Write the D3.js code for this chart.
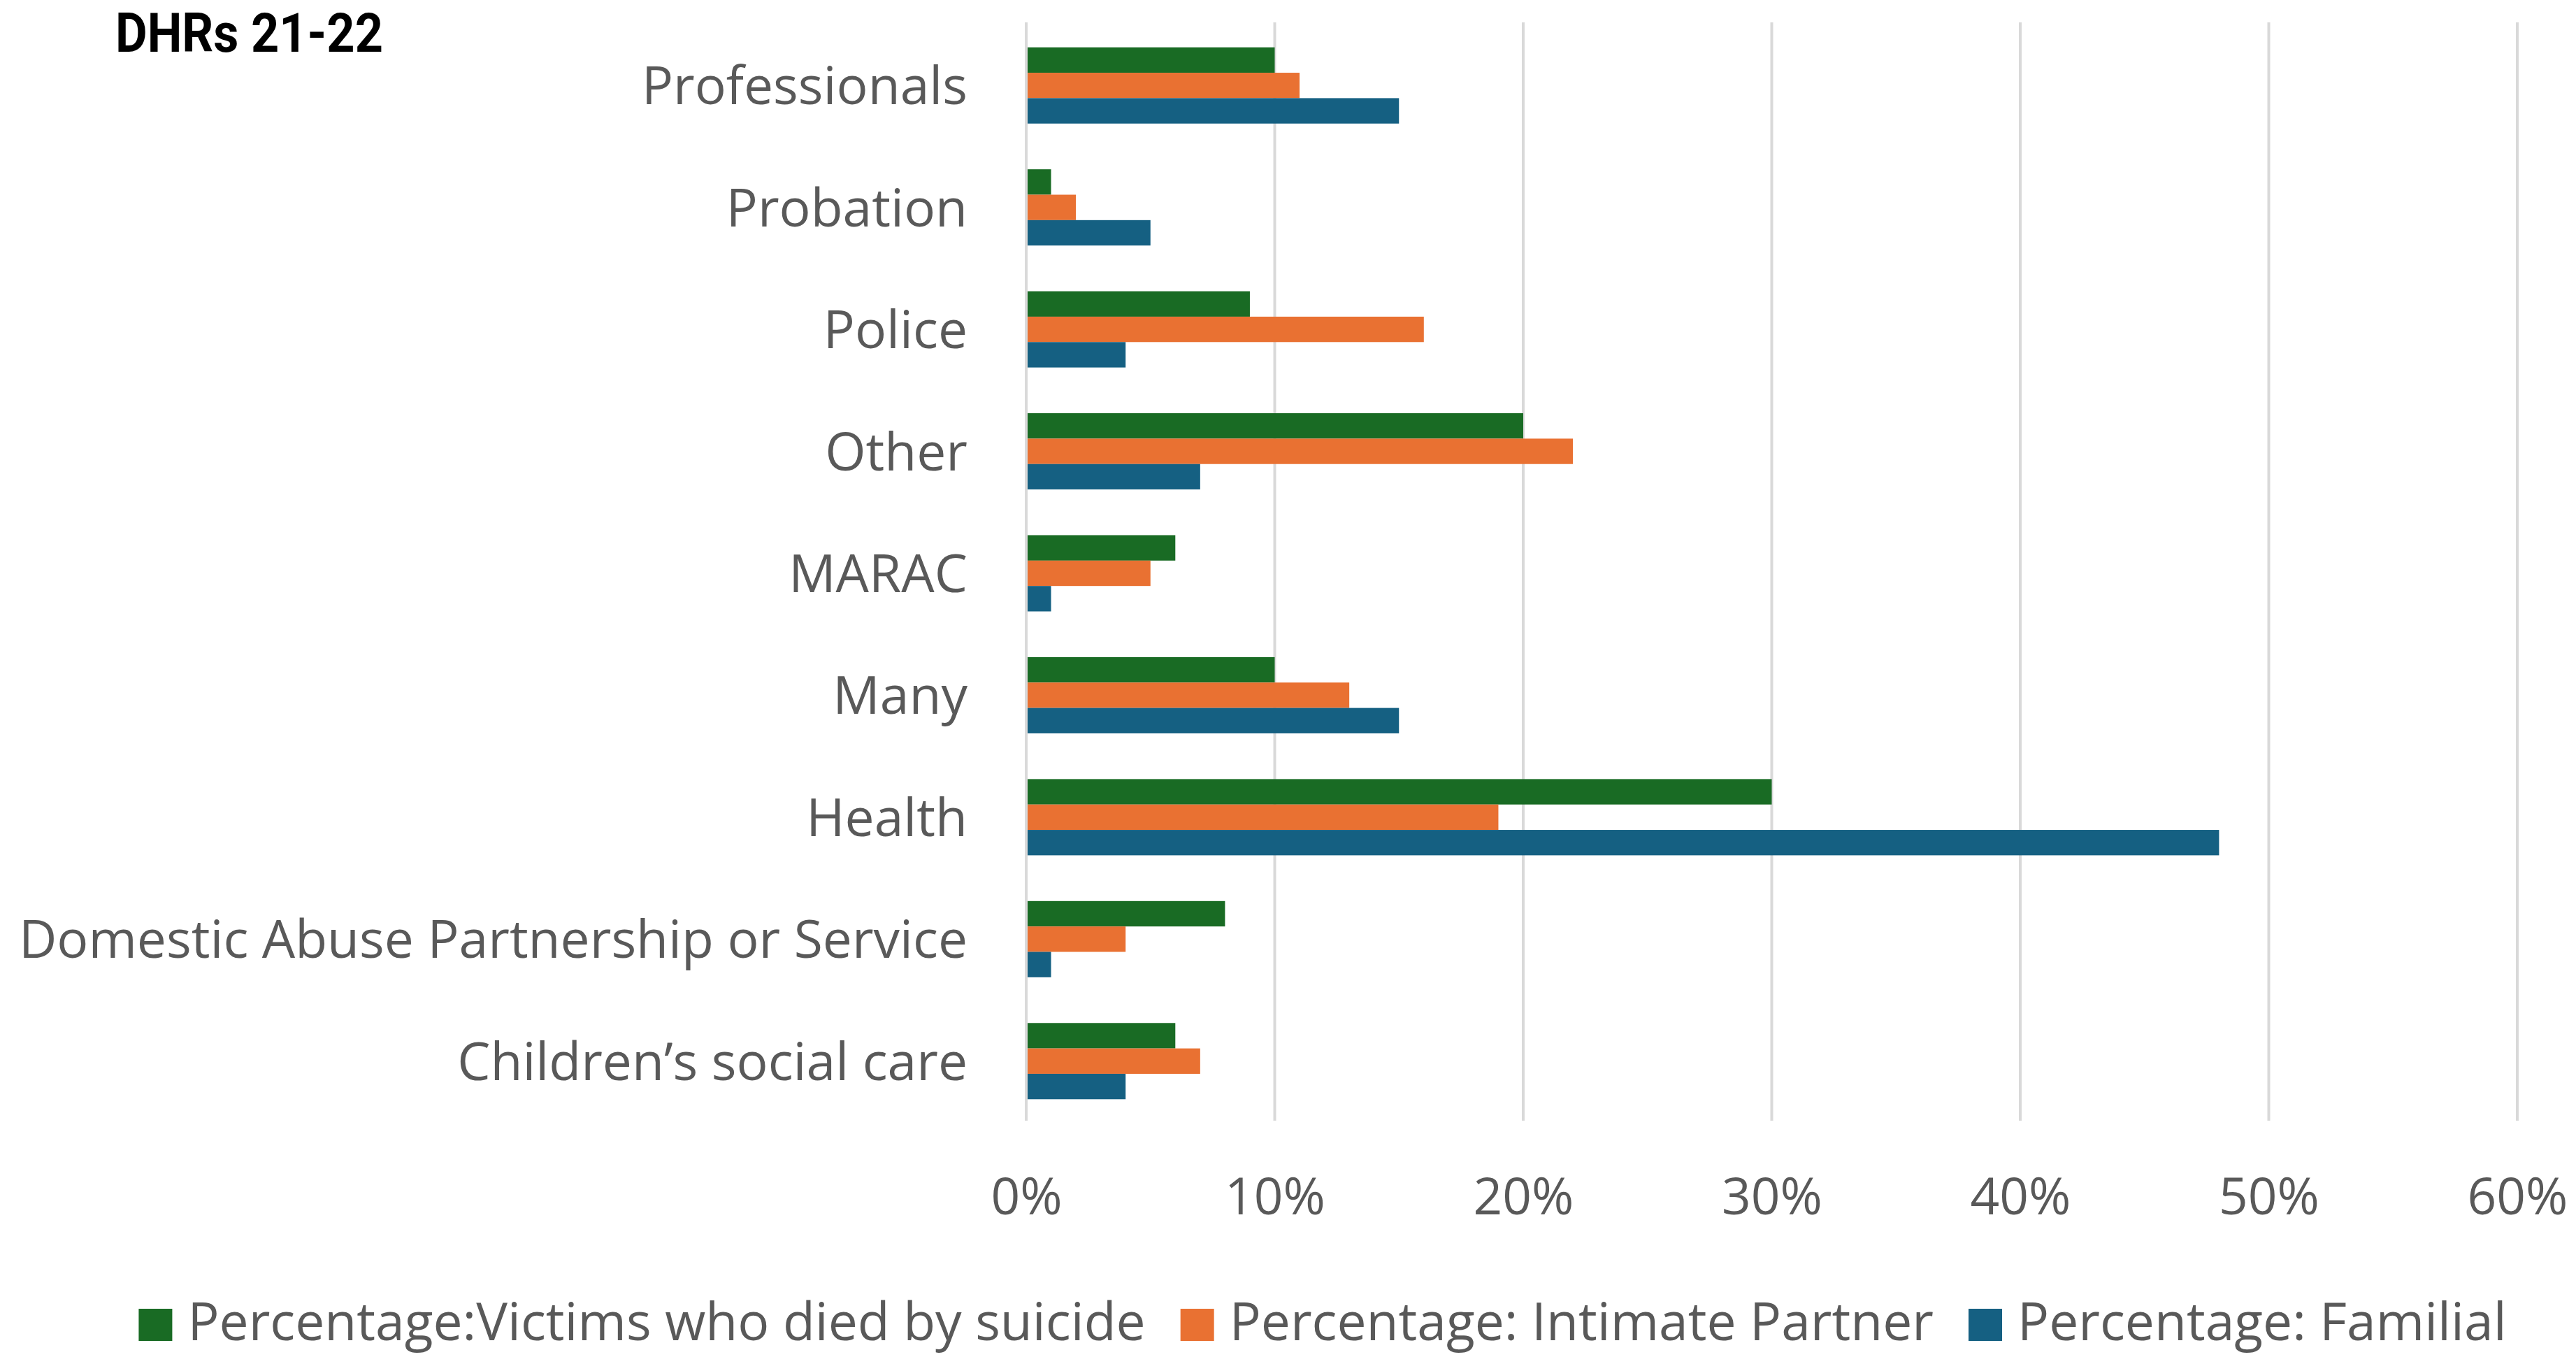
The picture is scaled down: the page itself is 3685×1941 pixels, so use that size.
<!DOCTYPE html>
<html>
<head>
<meta charset="utf-8">
<script src="https://cdn.jsdelivr.net/npm/d3@7"></script>
<style>
  html, body { margin: 0; padding: 0; background: #ffffff; }
  svg { display: block; }
</style>
</head>
<body>
<svg id="chart" width="3685" height="1941"></svg>
<script>
// Agencies named in the reviews, top to bottom
const categories = [
  "Professionals",
  "Probation",
  "Police",
  "Other",
  "MARAC",
  "Many",
  "Health",
  "Domestic Abuse Partnership or Service",
  "Children\u2019s social care"
];

const seriesNames = [
  "Percentage:Victims who died by suicide",
  "Percentage: Intimate Partner",
  "Percentage: Familial"
];

// Share of reviews (%) per agency, one array per review type
const suicideValues  = [10, 1, 9, 20, 6, 10, 30, 8, 6];
const partnerValues  = [11, 2, 16, 22, 5, 13, 19, 4, 7];
const familialValues = [15, 5, 4, 7, 1, 15, 48, 1, 4];

const tickValues = [0, 10, 20, 30, 40, 50, 60];
const tickLabels = ["0%", "10%", "20%", "30%", "40%", "50%", "60%"];

const seriesColors = ["#196B24", "#E97132", "#156082"];
const titleText = "DHRs 21-22";

const seriesValues = [suicideValues, partnerValues, familialValues];
const rows = categories.map((c, i) => ({
  category: c,
  values: seriesNames.map((s, k) => ({ series: s, value: seriesValues[k][i] }))
}));

const svg = d3.select("#chart");
const textColor = "#595959";
const fontFamily = "'Open Sans', 'Noto Sans', sans-serif";
const labelSize = 75;

const x = d3.scaleLinear().domain([0, 60]).range([1468, 3601]);
const y = d3.scaleBand().domain(categories).range([35, 1605]).padding(0);
const ySub = d3.scaleBand().domain(seriesNames).range([0, y.bandwidth()])
  .paddingInner(0).paddingOuter(0.9);
const color = d3.scaleOrdinal().domain(seriesNames).range(seriesColors);

// Vertical gridlines
svg.append("g")
  .selectAll("line")
  .data(tickValues)
  .join("line")
  .attr("x1", d => x(d)).attr("x2", d => x(d))
  .attr("y1", 32).attr("y2", 1603)
  .attr("stroke", "#d9d9d9")
  .attr("stroke-width", 4);

// Bars
const groups = svg.append("g")
  .selectAll("g")
  .data(rows)
  .join("g")
  .attr("transform", d => `translate(0,${y(d.category)})`);

groups.selectAll("rect")
  .data(d => d.values)
  .join("rect")
  .attr("x", x(0) + 2)
  .attr("y", d => ySub(d.series))
  .attr("width", d => Math.max(0, x(d.value) - x(0) - 2))
  .attr("height", ySub.bandwidth())
  .attr("fill", d => color(d.series));

// Category axis labels
const yAxis = d3.axisLeft(y).tickSize(0).tickPadding(0);
const yAxisG = svg.append("g")
  .attr("transform", "translate(1384,0)")
  .call(yAxis);
yAxisG.select(".domain").remove();
yAxisG.selectAll("text")
  .attr("font-family", fontFamily)
  .attr("font-size", labelSize)
  .attr("fill", textColor)
  .attr("dy", "0.36em");

// Percentage axis labels
const xAxis = d3.axisBottom(x)
  .tickValues(tickValues)
  .tickFormat((d, i) => tickLabels[i])
  .tickSize(0)
  .tickPadding(0);
const xAxisG = svg.append("g")
  .attr("transform", "translate(0,1737)")
  .call(xAxis);
xAxisG.select(".domain").remove();
xAxisG.selectAll("text")
  .attr("font-family", fontFamily)
  .attr("font-size", 73)
  .attr("fill", textColor)
  .attr("dy", 0);

// Title, set in a narrow bold face
svg.append("text")
  .attr("x", 165)
  .attr("y", 74)
  .attr("font-family", "Roboto, 'Liberation Sans', sans-serif")
  .attr("font-weight", 700)
  .attr("font-size", 78)
  .attr("fill", "#000000")
  .attr("textLength", 383)
  .attr("lengthAdjust", "spacingAndGlyphs")
  .text(titleText);

// Legend
const legend = svg.append("g");
const itemGap = 50;
let cursor = 0;
seriesNames.forEach((name, i) => {
  const item = legend.append("g").attr("transform", `translate(${cursor},0)`);
  item.append("rect")
    .attr("x", 0).attr("y", 1872)
    .attr("width", 48).attr("height", 46)
    .attr("fill", color(name));
  const t = item.append("text")
    .attr("x", 70)
    .attr("y", 1917)
    .attr("font-family", fontFamily)
    .attr("font-size", labelSize)
    .attr("fill", textColor)
    .text(name);
  cursor += 70 + t.node().getComputedTextLength() + itemGap;
});
const legendWidth = cursor - itemGap;
legend.attr("transform", `translate(${1892 - legendWidth / 2},0)`);
</script>
</body>
</html>
